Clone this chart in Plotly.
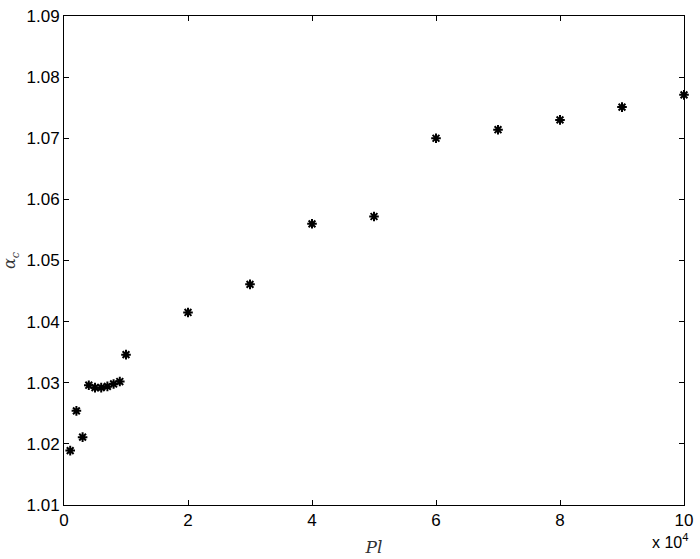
import plotly.graph_objects as go

# Pl in units of 1e4, critical alpha
pl = [0.1, 0.2, 0.3, 0.4, 0.5, 0.6, 0.7, 0.8, 0.9, 1.0,
      2, 3, 4, 5, 6, 7, 8, 9, 10]
alpha_c = [1.0189, 1.0254, 1.0211, 1.0296, 1.0292, 1.0292, 1.0294, 1.0298, 1.0302, 1.0346,
           1.0415, 1.0461, 1.0560, 1.0572, 1.0700, 1.0714, 1.0730, 1.0751, 1.0771]

xticks = [0, 2, 4, 6, 8, 10]
yticks = [1.01, 1.02, 1.03, 1.04, 1.05, 1.06, 1.07, 1.08, 1.09]

fig = go.Figure()
fig.add_scatter(x=pl, y=alpha_c, mode='markers',
                marker=dict(symbol='asterisk-open', size=8, color='black',
                            line=dict(color='black', width=2)),
                cliponaxis=False, showlegend=False)

axis_common = dict(showline=True, linecolor='black', linewidth=1, mirror='ticks',
                   ticks='inside', ticklen=5, tickcolor='black', showgrid=False,
                   zeroline=False, automargin=False,
                   tickfont=dict(family='Liberation Sans', size=17, color='black'))

fig.update_layout(
    width=700, height=559,
    margin=dict(l=64, r=16, t=16, b=54),
    plot_bgcolor='white', paper_bgcolor='white',
    xaxis=dict(range=[0, 10], tickvals=xticks, ticktext=[str(t) for t in xticks],
               title=dict(text='<i>Pl</i>', standoff=11,
                          font=dict(family='DejaVu Serif', size=17, color='#333')),
               **axis_common),
    yaxis=dict(range=[1.01, 1.09], tickvals=yticks, ticktext=[f'{t:.2f}' for t in yticks],
               title=dict(text='<i>α<sub>c</sub></i>', standoff=6,
                          font=dict(family='DejaVu Serif', size=16, color='#333')),
               **axis_common),
    annotations=[dict(text='x 10<sup>4</sup>', xref='paper', yref='paper', x=1.01, y=-0.05,
                      xanchor='right', yanchor='top', showarrow=False,
                      font=dict(family='Liberation Sans', size=16, color='black'))]
)

fig.write_html("out.html", config={'displayModeBar': False},
               post_script="document.body.style.margin='0';")
